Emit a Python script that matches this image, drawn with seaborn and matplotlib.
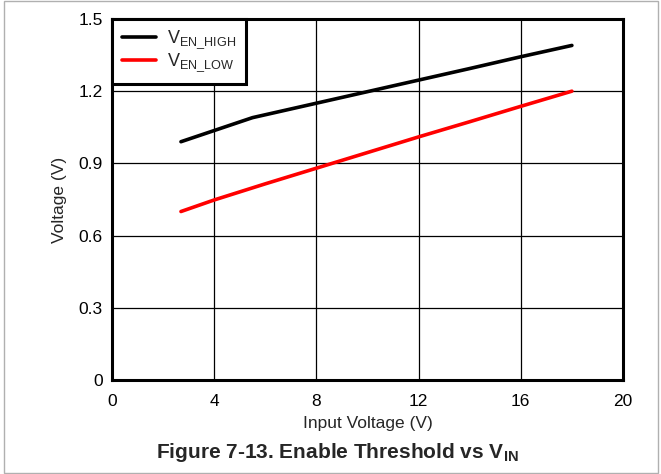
import numpy as np
import pandas as pd
import matplotlib
matplotlib.use('Agg')
import matplotlib.pyplot as plt
import seaborn as sns
from matplotlib.lines import Line2D

# values
vin_high = [2.7, 5.5, 8, 10, 12, 14, 16, 18]
ven_high = [0.99, 1.09, 1.15, 1.198, 1.246, 1.294, 1.343, 1.39]
vin_low = [2.7, 4, 6, 8, 10, 12, 14, 16, 18]
ven_low = [0.70, 0.748, 0.815, 0.88, 0.945, 1.01, 1.073, 1.137, 1.20]

x_ticks = [0, 4, 8, 12, 16, 20]
y_ticks = [0, 0.3, 0.6, 0.9, 1.2, 1.5]
y_tick_labels = ['0', '0.3', '0.6', '0.9', '1.2', '1.5']

df = pd.concat([
    pd.DataFrame({'vin': vin_high, 'v': ven_high, 'series': 'high'}),
    pd.DataFrame({'vin': vin_low, 'v': ven_low, 'series': 'low'}),
])

sns.set_style('white')
plt.rcParams['font.family'] = ['Liberation Sans', 'DejaVu Sans']
plt.rcParams['mathtext.fontset'] = 'custom'
plt.rcParams['mathtext.rm'] = 'Liberation Sans'
plt.rcParams['mathtext.bf'] = 'Liberation Sans:bold'

fig = plt.figure(figsize=(6.61, 4.74), dpi=100)
ax = fig.add_axes([0.1694, 0.1983, 0.7731, 0.7617])

sns.lineplot(data=df, x='vin', y='v', hue='series', palette={'high': 'black', 'low': '#ff0000'},
             linewidth=2.6, ax=ax, legend=False, sort=False)

ax.set_xlim(0, 20)
ax.set_ylim(0, 1.5)
ax.set_xticks(x_ticks)
ax.set_yticks(y_ticks)
ax.set_yticklabels(y_tick_labels)
ax.tick_params(axis='both', labelsize=12.5, length=0, colors='black')
ax.tick_params(axis='x', pad=10)
ax.tick_params(axis='y', pad=6.5)
ax.grid(True, color='black', linewidth=0.9)
ax.set_axisbelow(True)
for s in ax.spines.values():
    s.set_linewidth(2.2)
    s.set_color('black')

ax.set_xlabel('Input Voltage (V)', fontsize=12.5, labelpad=5)
ax.set_ylabel('Voltage (V)', fontsize=12.5, labelpad=8)

handles = [Line2D([], [], color='black', linewidth=2.6),
           Line2D([], [], color='#ff0000', linewidth=2.6)]
leg = ax.legend(handles, [r'V$_{\mathregular{EN\_HIGH}}$', r'V$_{\mathregular{EN\_LOW}}$'],
                loc='upper left', bbox_to_anchor=(0, 1), borderaxespad=0, fontsize=13,
                fancybox=False, framealpha=1, edgecolor='black', handlelength=1.9,
                handletextpad=0.6, labelspacing=0.05, borderpad=0.55)
leg.get_frame().set_linewidth(2.2)

fig.text(337, 474 - 452, r'Figure 7-13. Enable Threshold vs V$_{\mathbf{IN}}$', transform=None,
         ha='center', va='center', fontsize=15, fontweight='bold')

# light frame around the whole figure
fig.patches.append(plt.Rectangle((0.006, 0.002), 0.99, 0.996, transform=fig.transFigure,
                                 fill=False, edgecolor='#b0b0b0', linewidth=1))

fig.savefig('out.png', dpi=100)
